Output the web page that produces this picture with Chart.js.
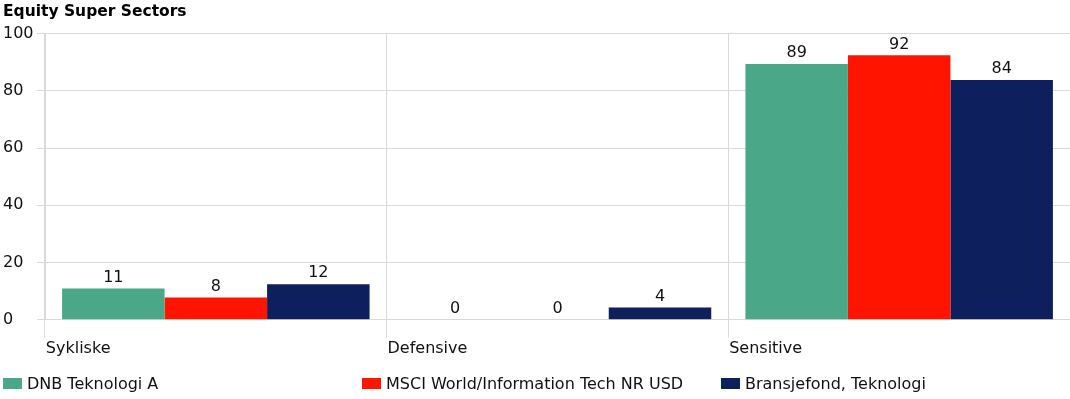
<!DOCTYPE html>
<html>
<head>
<meta charset="utf-8">
<script src="https://cdn.jsdelivr.net/npm/chart.js@4.4.0/dist/chart.umd.min.js"></script>
<style>
  html, body { margin: 0; padding: 0; background: #fff; }
  #wrap { position: relative; width: 1070px; height: 399px; overflow: hidden; }
  #legend { position: absolute; left: 0; top: 373px; width: 1070px; height: 20px; font: 16px "DejaVu Sans", sans-serif; color: #111; }
  .item { position: absolute; top: 0; height: 20px; display: flex; align-items: center; white-space: nowrap; }
  .box { width: 19px; height: 11px; margin-right: 5px; }
</style>
</head>
<body>
<div id="wrap">
  <canvas id="chart" width="1070" height="399"></canvas>
  <div id="legend"></div>
</div>
<script>
const categories = ["Sykliske", "Defensive", "Sensitive"];
const seriesNames = ["DNB Teknologi A", "MSCI World/Information Tech NR USD", "Bransjefond, Teknologi"];
const dnbValues = [10.9, 0, 89.4];
const msciValues = [7.8, 0, 92.4];
const bransjeValues = [12.4, 4.3, 83.8];
const yTicks = [0, 20, 40, 60, 80, 100];

const colors = ["#4aa889", "#ff1400", "#0e1f5e"];
const legendX = [3, 362, 721];
const gridColor = "#d9d9d9";
const font = "'DejaVu Sans', Verdana, sans-serif";

// value labels on top of each bar
const valueLabels = {
  id: "valueLabels",
  afterDatasetsDraw(chart) {
    const ctx = chart.ctx;
    ctx.save();
    ctx.font = "16px " + font;
    ctx.fillStyle = "#111";
    ctx.textAlign = "center";
    ctx.textBaseline = "bottom";
    chart.data.datasets.forEach((ds, i) => {
      chart.getDatasetMeta(i).data.forEach((bar, j) => {
        ctx.fillText(Math.round(ds.data[j]), bar.x, bar.y - 3);
      });
    });
    ctx.restore();
  },
};

const allValues = [dnbValues, msciValues, bransjeValues];

const config = {
  type: "bar",
  data: {
    labels: categories,
    datasets: seriesNames.map((name, i) => ({
      label: name,
      data: allValues[i],
      backgroundColor: colors[i],
      borderWidth: 0,
      categoryPercentage: 0.9,
      barPercentage: 1.0,
    })),
  },
  options: {
    responsive: false,
    animation: false,
    layout: {
      padding: { left: 3, right: 0, top: 0, bottom: 40 },
    },
    plugins: {
      legend: { display: false },
      tooltip: { enabled: false },
      title: {
        display: true,
        text: "Equity Super Sectors",
        align: "start",
        color: "#000",
        font: { family: font, size: 15.5, weight: "bold" },
        padding: { top: 3, bottom: 12 },
      },
    },
    scales: {
      x: {
        grid: {
          offset: true,
          color: gridColor,
          tickLength: 18,
        },
        border: { color: gridColor },
        ticks: {
          align: "start",
          labelOffset: -170,
          padding: 1,
          color: "#111",
          font: { family: font, size: 16 },
        },
      },
      y: {
        min: 0,
        max: 100,
        afterBuildTicks: (axis) => {
          axis.ticks = yTicks.map((v) => ({ value: v }));
        },
        afterFit: (axis) => {
          axis.width = 42;
        },
        grid: {
          color: gridColor,
          tickLength: 8,
        },
        border: { color: gridColor },
        ticks: {
          crossAlign: "far",
          padding: 3,
          color: "#111",
          font: { family: font, size: 16 },
        },
      },
    },
  },
  plugins: [valueLabels],
};

const ctx = document.getElementById("chart").getContext("2d");
const myChart = new Chart(ctx, config);

// legend
const legend = document.getElementById("legend");
seriesNames.forEach((name, i) => {
  const item = document.createElement("div");
  item.className = "item";
  item.style.left = legendX[i] + "px";
  const box = document.createElement("span");
  box.className = "box";
  box.style.background = colors[i];
  const txt = document.createElement("span");
  txt.textContent = name;
  item.appendChild(box);
  item.appendChild(txt);
  legend.appendChild(item);
});
</script>
</body>
</html>
